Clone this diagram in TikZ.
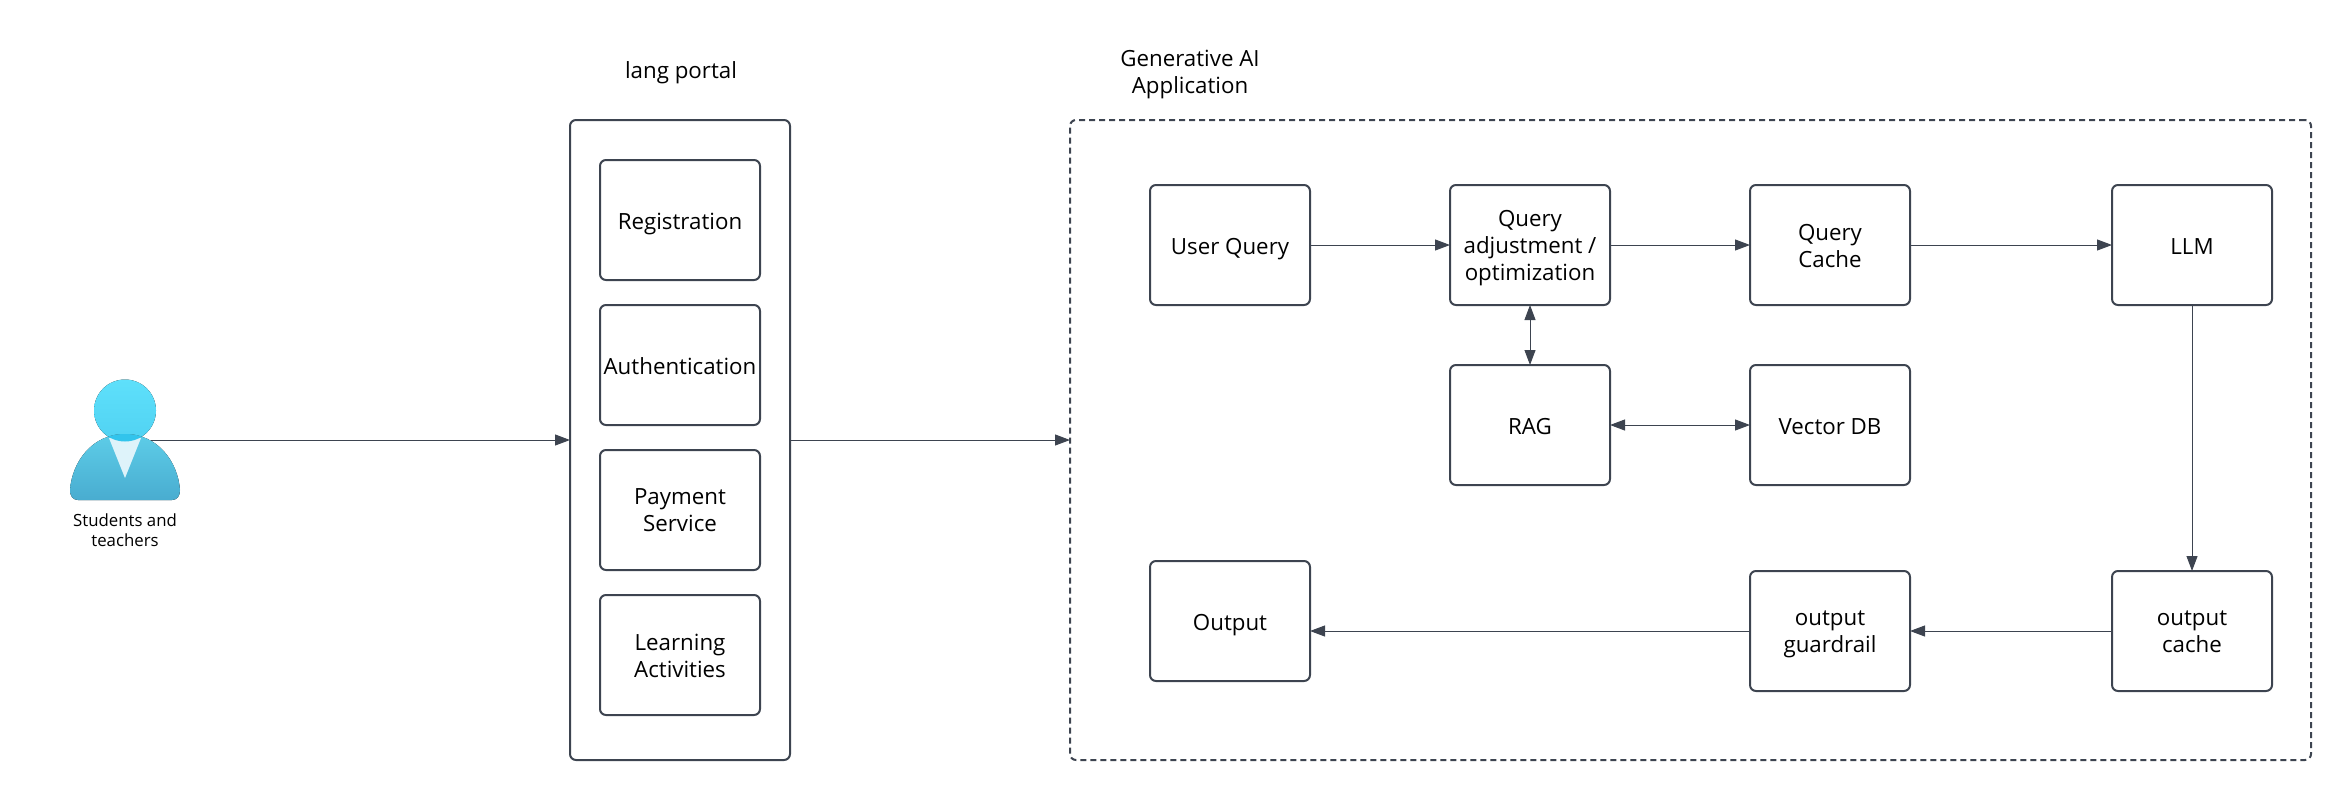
\documentclass[tikz,border=0pt]{standalone}
\usepackage{fontspec}
\usepackage{xcolor}
\usetikzlibrary{arrows.meta}
\setmainfont{Open Sans}
\definecolor{linegray}{HTML}{3D4450}
\definecolor{headtop}{HTML}{5EE0FB}
\definecolor{headbot}{HTML}{50D2F2}
\definecolor{bodytop}{HTML}{5DCDE8}
\definecolor{bodybot}{HTML}{49ACD0}
\definecolor{overlap}{HTML}{32C4EC}
\definecolor{collar}{HTML}{DEF3FA}
\newcommand{\bodyshape}{(78,500) -- (172,500) .. controls (177,500) and (180,496) .. (180,490) .. controls (178,462) and (158,434) .. (125,434) .. controls (92,434) and (72,462) .. (70,490) .. controls (70,496) and (73,500) .. (78,500) -- cycle}
\tikzset{blocktext/.style={label={[yshift=-4.5pt]center:{#1}}}}
\begin{document}
\begin{tikzpicture}[x=1pt,y=-1pt]
\tikzstyle{every node}+=[font=\fontsize{22.3}{26.9}\selectfont,align=center,inner sep=0pt,outer sep=0pt,execute at begin node=\strut,execute at end node=\strut]
\tikzstyle{blockbox}=[draw=linegray,line width=2pt,rounded corners=6pt,minimum width=160pt,minimum height=120pt]
\tikzstyle{framebox}=[draw=linegray,line width=2pt,rounded corners=6pt]
\tikzstyle{conn}=[draw=linegray,line width=1pt,-{Triangle[length=15pt,width=11pt]}]
\tikzstyle{bothconn}=[draw=linegray,line width=1pt,{Triangle[length=15pt,width=11pt]}-{Triangle[length=15pt,width=11pt]}]
\useasboundingbox (0,0) rectangle (2349,800);
% person
\fill [top color=headtop,bottom color=headbot] (125,410.5) circle (31);
\fill [top color=bodytop,bottom color=bodybot] \bodyshape;
\fill [collar] (109,438) -- (141,438) -- (125,478) -- cycle;
\begin{scope}
\clip (125,410.5) circle (31);
\fill [overlap] \bodyshape;
\end{scope}
\coordinate (student) at (151,440);
\node [font=\fontsize{16.8}{20}\selectfont] (studentlabel) at (125,533) {Students and\\teachers};
% lang portal
\node (portaltitle) at (681,73) {lang portal};
\node [framebox,minimum width=220pt,minimum height=640pt] (portal) at (680,440) {};
\node [blockbox,blocktext=Registration] (registration) at (680,220) {};
\node [blockbox,blocktext=Authentication] (authentication) at (680,365) {};
\node [blockbox,blocktext={Payment\\Service}] (payment) at (680,510) {};
\node [blockbox,blocktext={Learning\\Activities}] (learning) at (680,655) {};
% generative ai application
\node (gentitle) at (1190,76) {Generative AI\\Application};
\node [framebox,dash pattern=on 6pt off 4pt,minimum width=1241pt,minimum height=640pt] (genai) at (1690.5,440) {};
\node [blockbox,blocktext=User Query] (userquery) at (1230,245) {};
\node [blockbox,blocktext={Query\\adjustment /\\optimization}] (adjust) at (1530,245) {};
\node [blockbox,blocktext={Query\\Cache}] (querycache) at (1830,245) {};
\node [blockbox,blocktext=LLM] (llm) at (2192,245) {};
\node [blockbox,blocktext=RAG] (rag) at (1530,425) {};
\node [blockbox,blocktext=Vector DB] (vectordb) at (1830,425) {};
\node [blockbox,blocktext=Output] (output) at (1230,621) {};
\node [blockbox,blocktext={output\\guardrail}] (guardrail) at (1830,631) {};
\node [blockbox,blocktext={output\\cache}] (outcache) at (2192,631) {};
% connectors
\draw [conn] (student) -- (portal.west);
\draw [conn] (portal.east) -- (genai.west);
\draw [conn] (userquery) -- (adjust);
\draw [conn] (adjust) -- (querycache);
\draw [conn] (querycache) -- (llm);
\draw [conn] (llm) -- (outcache);
\draw [conn] (outcache) -- (guardrail);
\draw [conn] (guardrail.west) -- (guardrail.west -| output.east);
\draw [bothconn] (adjust) -- (rag);
\draw [bothconn] (rag) -- (vectordb);
\end{tikzpicture}
\end{document}
